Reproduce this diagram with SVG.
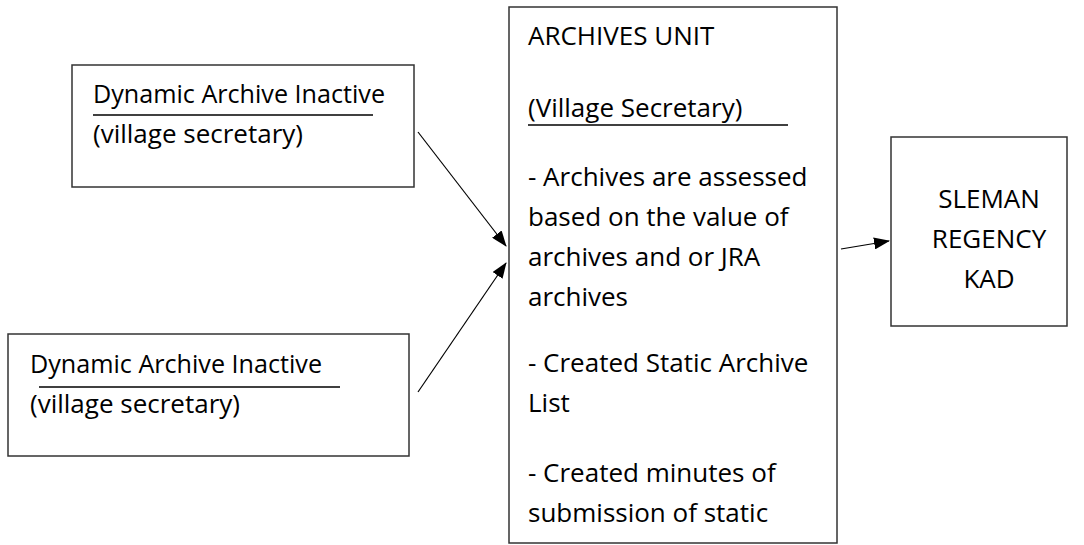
<svg xmlns="http://www.w3.org/2000/svg" width="1084" height="545" viewBox="0 0 1084 545">
  <style>
    .box { fill: #ffffff; stroke: #333333; stroke-width: 1.5; }
    .t { font-family: "Open Sans", "Liberation Sans", sans-serif; font-size: 26px; fill: #000000; }
    .mid { text-anchor: middle; }
    .ul { stroke: #000000; stroke-width: 1.3; }
    .conn { stroke: #000000; stroke-width: 1.2; fill: none; marker-end: url(#arrow); }
  </style>
  <defs>
    <marker id="arrow" viewBox="0 0 16 12" refX="15" refY="6" markerWidth="16" markerHeight="12" markerUnits="userSpaceOnUse" orient="auto">
      <path d="M0,0 L16,6 L0,12 Z" fill="#000000"/>
    </marker>
  </defs>
  <rect width="1084" height="545" fill="#ffffff"/>

  <g id="node-dynamic-1">
    <rect class="box" x="72" y="65" width="342" height="122"/>
    <text class="t" x="93" y="103" textLength="292" lengthAdjust="spacingAndGlyphs">Dynamic Archive Inactive</text>
    <line class="ul" x1="93" y1="115" x2="373" y2="115"/>
    <text class="t" x="93" y="143">(village secretary)</text>
  </g>

  <g id="node-dynamic-2">
    <rect class="box" x="8" y="334" width="401" height="122"/>
    <text class="t" x="30" y="373" textLength="292" lengthAdjust="spacingAndGlyphs">Dynamic Archive Inactive</text>
    <line class="ul" x1="39" y1="387" x2="340" y2="387"/>
    <text class="t" x="30" y="413">(village secretary)</text>
  </g>

  <g id="node-archives-unit">
    <rect class="box" x="509" y="7" width="328" height="536"/>
    <text class="t" x="528" y="45">ARCHIVES UNIT</text>
    <text class="t" x="528" y="117">(Village Secretary)</text>
    <line class="ul" x1="528" y1="125" x2="788" y2="125"/>
    <text class="t" x="528" y="186">- Archives are assessed</text>
    <text class="t" x="528" y="226">based on the value of</text>
    <text class="t" x="528" y="266">archives and or JRA</text>
    <text class="t" x="528" y="306">archives</text>
    <text class="t" x="528" y="372">- Created Static Archive</text>
    <text class="t" x="528" y="412">List</text>
    <text class="t" x="528" y="482">- Created minutes of</text>
    <text class="t" x="528" y="522">submission of static</text>
  </g>

  <g id="node-sleman">
    <rect class="box" x="891" y="137" width="176" height="189"/>
    <text class="t mid" x="989" y="208">SLEMAN</text>
    <text class="t mid" x="989" y="248">REGENCY</text>
    <text class="t mid" x="989" y="288">KAD</text>
  </g>

  <g id="connectors">
    <line class="conn" x1="418" y1="132" x2="506" y2="246"/>
    <line class="conn" x1="418" y1="392" x2="506" y2="263"/>
    <line class="conn" x1="841" y1="249" x2="889" y2="241"/>
  </g>
</svg>
